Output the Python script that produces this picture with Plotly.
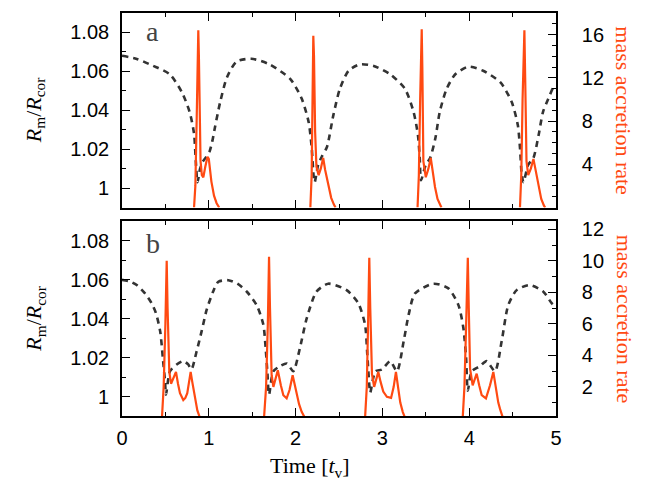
import plotly.graph_objects as go

# ---------------- data ----------------
# panel a : magnetospheric radius ratio
ta_r = [0.0, 0.17, 0.36, 0.55, 0.69, 0.78, 0.83, 0.85, 0.87, 0.90, 0.93, 0.97, 1.01, 1.04, 1.07, 1.13,
        1.21, 1.32, 1.49, 1.70, 1.94, 2.07, 2.15, 2.185, 2.21, 2.22, 2.26, 2.30, 2.36, 2.435, 2.51,
        2.61, 2.74, 2.90, 3.09, 3.26, 3.36, 3.41, 3.43, 3.445, 3.50, 3.55, 3.61, 3.66, 3.74, 3.84,
        3.99, 4.16, 4.36, 4.49, 4.56, 4.585, 4.605, 4.625, 4.68, 4.74, 4.80, 4.85, 4.91, 4.97, 5.0]
ra = [1.068, 1.0664, 1.0628, 1.0585, 1.0493, 1.039, 1.028, 1.014, 1.003, 1.010, 1.0135, 1.016, 1.019,
      1.024, 1.031, 1.044, 1.057, 1.065, 1.0665, 1.0636, 1.056, 1.046, 1.034, 1.021, 1.005, 1.003,
      1.012, 1.016, 1.021, 1.0375, 1.051, 1.0603, 1.0636, 1.0628, 1.0585, 1.051, 1.039, 1.027,
      1.0155, 1.004, 1.012, 1.0155, 1.0256, 1.039, 1.051, 1.0585, 1.0624, 1.0603, 1.0543, 1.0442,
      1.0324, 1.0207, 1.0071, 1.003, 1.012, 1.0155, 1.0273, 1.0391, 1.0458, 1.0518, 1.053]

# panel a : mass accretion rate (bursts; None = no accretion)
ta_m = [0.83, 0.845, 0.86, 0.872, 0.879, 0.886, 0.895, 0.905, 0.92, 0.937, 0.96, 0.985, 1.0, 1.03,
        1.06, 1.09, 1.12, None,
        2.17, 2.185, 2.195, 2.204, 2.212, 2.225, 2.24, 2.265, 2.29, 2.318, 2.34, 2.38, 2.41, 2.44,
        2.46, None,
        3.405, 3.42, 3.435, 3.453, 3.46, 3.472, 3.50, 3.53, 3.557, 3.58, 3.606, 3.635, 3.66, 3.68,
        None,
        4.585, 4.60, 4.615, 4.636, 4.645, 4.66, 4.68, 4.71, 4.74, 4.77, 4.80, 4.83, 4.86, 4.875]
ma = [0, 2, 8, 15, 16.4, 14, 8, 4.3, 3.0, 2.8, 3.8, 4.7, 4.5, 2.4, 1.1, 0.4, 0, None,
      0, 3, 10, 15.9, 14, 7, 3.8, 3.0, 3.6, 4.6, 3.5, 1.9, 0.9, 0.3, 0, None,
      0, 3, 10, 16.5, 13, 4.3, 2.8, 3.6, 4.6, 3.2, 1.9, 0.8, 0.3, 0, None,
      0, 3, 10, 16.4, 12, 4.3, 3.0, 3.6, 4.5, 3.2, 1.9, 0.8, 0.2, 0]

# panel b : magnetospheric radius ratio
tb_r = [0.0, 0.10, 0.17, 0.265, 0.34, 0.39, 0.44, 0.47, 0.495, 0.507, 0.553, 0.63, 0.706, 0.763,
        0.80, 0.86, 0.917, 0.975, 1.05, 1.11, 1.225, 1.33, 1.436, 1.551, 1.628, 1.655, 1.674, 1.694,
        1.744, 1.82, 1.90, 1.973, 2.05, 2.127, 2.242, 2.376, 2.588, 2.722, 2.80, 2.826, 2.849, 2.86,
        2.92, 2.995, 3.09, 3.168, 3.245, 3.302, 3.376, 3.588, 3.76, 3.876, 3.933, 3.964, 3.984,
        4.03, 4.124, 4.20, 4.297, 4.374, 4.45, 4.547, 4.70, 4.854, 4.95, 5.0]
rb = [1.060, 1.059, 1.0573, 1.053, 1.048, 1.043, 1.0335, 1.020, 1.008, 1.001, 1.013, 1.0165, 1.0182,
      1.0165, 1.014, 1.0233, 1.0335, 1.0445, 1.054, 1.059, 1.0598, 1.058, 1.054, 1.047, 1.037,
      1.025, 1.013, 1.001, 1.013, 1.0156, 1.017, 1.013, 1.025, 1.040, 1.054, 1.058, 1.0547, 1.048,
      1.037, 1.0216, 1.006, 1.002, 1.013, 1.0139, 1.0182, 1.013, 1.0284, 1.042, 1.053, 1.058,
      1.0556, 1.047, 1.0352, 1.020, 1.003, 1.013, 1.0156, 1.0182, 1.013, 1.0284, 1.047, 1.0547,
      1.0573, 1.0539, 1.048, 1.046]

# panel b : mass accretion rate
tb_m = [0.46, 0.48, 0.50, 0.515, 0.525, 0.535, 0.545, 0.565, 0.59, 0.622, 0.645, 0.668, 0.706, 0.73,
        0.752, 0.77, 0.791, 0.81, 0.829, 0.85, 0.868, 0.9, None,
        1.636, 1.66, 1.68, 1.694, 1.705, 1.715, 1.724, 1.744, 1.77, 1.795, 1.83, 1.859, 1.897, 1.93,
        1.966, 1.99, 2.012, 2.04, 2.07, 2.11, None,
        2.80, 2.82, 2.835, 2.849, 2.86, 2.87, 2.88, 2.905, 2.93, 2.953, 2.98, 3.01, 3.052, 3.10,
        3.13, 3.156, 3.18, 3.206, 3.235, 3.263, None,
        3.925, 3.945, 3.965, 3.984, 3.995, 4.003, 4.01, 4.04, 4.065, 4.086, 4.115, 4.144, 4.193,
        4.24, 4.278, 4.30, 4.317, 4.335, 4.355, 4.39]
mb = [0, 2, 6, 10.0, 7, 4, 2.95, 2.2, 2.5, 2.95, 2.2, 1.6, 1.16, 1.3, 1.6, 2.4, 2.95, 2.3, 1.7, 1.0,
      0.5, 0, None,
      0, 2, 6, 10.25, 7, 4, 2.74, 2.0, 2.6, 3.05, 2.1, 1.47, 1.27, 1.8, 2.74, 2.1, 1.47, 0.9, 0.42,
      0, None,
      0, 2, 6, 10.2, 7, 4, 2.8, 2.0, 2.5, 2.95, 2.3, 1.7, 1.37, 1.3, 2.0, 2.95, 2.0, 1.0, 0.4, 0,
      None,
      0, 2, 6, 10.2, 7, 4.5, 3.16, 2.1, 2.5, 2.84, 2.1, 1.47, 1.27, 2.1, 2.95, 2.1, 1.47, 1.0,
      0.6, 0]

# tick labels
x_ticks = [0, 1, 2, 3, 4, 5]
x_ticklabels = ["0", "1", "2", "3", "4", "5"]
r_ticks = [1.0, 1.02, 1.04, 1.06, 1.08]
r_ticklabels = ["1", "1.02", "1.04", "1.06", "1.08"]
ma_ticks = [4, 8, 12, 16]
ma_ticklabels = ["4", "8", "12", "16"]
mb_ticks = [2, 4, 6, 8, 10, 12]
mb_ticklabels = ["2", "4", "6", "8", "10", "12"]

panel_labels = ["a", "b"]
left_title = "<i>R</i><sub>m</sub>/<i>R</i><sub>cor</sub>"
right_title = "mass accretion rate"
x_title = "Time [<i>t</i><sub>v</sub>]"

# ---------------- styling ----------------
ORANGE = "#ff4a12"
DASHC = "#333333"
SANS = "Liberation Sans, Arial, sans-serif"
SERIF = "Liberation Serif, Times New Roman, serif"

OFF = 8  # default page margin of the html body
W, H = 654 - OFF, 488 - OFF
ML, MT = 122 - OFF, 10 - OFF
PW, PH = 434, 406
MR, MB = W - ML - PW, H - MT - PH
top_dom = [(416 - 206) / PH, 1.0]
bot_dom = [0.0, (416 - 220) / PH]

fig = go.Figure()
dash_line = dict(color=DASHC, width=2.6, dash="6px,5px", shape="spline", smoothing=0.7)
or_line = dict(color=ORANGE, width=2.2)
fig.add_trace(go.Scatter(x=ta_r, y=ra, xaxis="x", yaxis="y", mode="lines", line=dash_line,
                         showlegend=False, hoverinfo="skip"))
fig.add_trace(go.Scatter(x=ta_m, y=ma, xaxis="x", yaxis="y2", mode="lines", line=or_line,
                         connectgaps=False, showlegend=False, hoverinfo="skip"))
fig.add_trace(go.Scatter(x=tb_r, y=rb, xaxis="x2", yaxis="y3", mode="lines", line=dash_line,
                         showlegend=False, hoverinfo="skip"))
fig.add_trace(go.Scatter(x=tb_m, y=mb, xaxis="x2", yaxis="y4", mode="lines", line=or_line,
                         connectgaps=False, showlegend=False, hoverinfo="skip"))

common = dict(showline=True, linecolor="black", linewidth=1.6, ticks="inside", ticklen=8,
              tickwidth=1.3, tickcolor="black", showgrid=False, zeroline=False,
              tickfont=dict(family=SANS, size=20, color="black"))

xcommon = dict(common, range=[0, 5], tickvals=x_ticks, ticktext=x_ticklabels, mirror="ticks",
               minor=dict(dtick=0.5, tick0=0, ticks="inside", ticklen=4, tickwidth=1.2,
                          tickcolor="black", showgrid=False))

fig.update_layout(
    width=W, height=H,
    margin=dict(l=ML, r=MR, t=MT, b=MB, pad=0),
    paper_bgcolor="white", plot_bgcolor="white",
    xaxis=dict(xcommon, domain=[0, 1], anchor="y", showticklabels=False),
    xaxis2=dict(xcommon, domain=[0, 1], anchor="y3", showticklabels=True, ticklabelstandoff=3),
    yaxis=dict(common, domain=top_dom, anchor="x", range=[0.99, 1.09], tickvals=r_ticks,
               ticktext=r_ticklabels, ticklabelstandoff=7,
               minor=dict(dtick=0.01, tick0=1.0, ticks="inside", ticklen=4, tickwidth=1.2,
                          tickcolor="black", showgrid=False)),
    yaxis2=dict(common, overlaying="y", side="right", anchor="x", range=[0, 18],
                tickvals=ma_ticks, ticktext=ma_ticklabels, ticklabelstandoff=20,
                minor=dict(dtick=1, tick0=0, ticks="inside", ticklen=4, tickwidth=1.2,
                           tickcolor="black", showgrid=False)),
    yaxis3=dict(common, domain=bot_dom, anchor="x2", range=[0.99, 1.09], tickvals=r_ticks,
                ticktext=r_ticklabels, ticklabelstandoff=7,
                minor=dict(dtick=0.01, tick0=1.0, ticks="inside", ticklen=4, tickwidth=1.2,
                           tickcolor="black", showgrid=False)),
    yaxis4=dict(common, overlaying="y3", side="right", anchor="x2", range=[0.15, 12.5],
                tickvals=mb_ticks, ticktext=mb_ticklabels, ticklabelstandoff=20,
                minor=dict(dtick=1, tick0=0, ticks="inside", ticklen=4, tickwidth=1.2,
                           tickcolor="black", showgrid=False)),
)

# positions below are given in screenshot pixels
def px_x(px):
    return (px - OFF - ML) / PW

def px_y(py):
    return (MT + PH - (py - OFF)) / PH

ann = []
for lab, (lx, ly) in zip(panel_labels, [(152, 29), (153, 242)]):
    ann.append(dict(text=lab, x=px_x(lx), y=px_y(ly), xref="paper", yref="paper",
                    xanchor="center", yanchor="middle", showarrow=False,
                    font=dict(family=SERIF, size=28, color="#444444")))
for cy in [108, 318]:
    ann.append(dict(text=left_title, x=px_x(35), y=px_y(cy), xref="paper", yref="paper",
                    xanchor="center", yanchor="middle", textangle=-90, showarrow=False,
                    font=dict(family=SERIF, size=22, color="black")))
    ann.append(dict(text=right_title, x=px_x(624), y=px_y(cy), xref="paper", yref="paper",
                    xanchor="center", yanchor="middle", textangle=90, showarrow=False,
                    font=dict(family=SERIF, size=22, color=ORANGE)))
ann.append(dict(text=x_title, x=px_x(310), y=px_y(467), xref="paper", yref="paper",
                xanchor="center", yanchor="middle", showarrow=False,
                font=dict(family=SERIF, size=22, color="black")))
fig.update_layout(annotations=ann)

fig.write_html("out.html")
